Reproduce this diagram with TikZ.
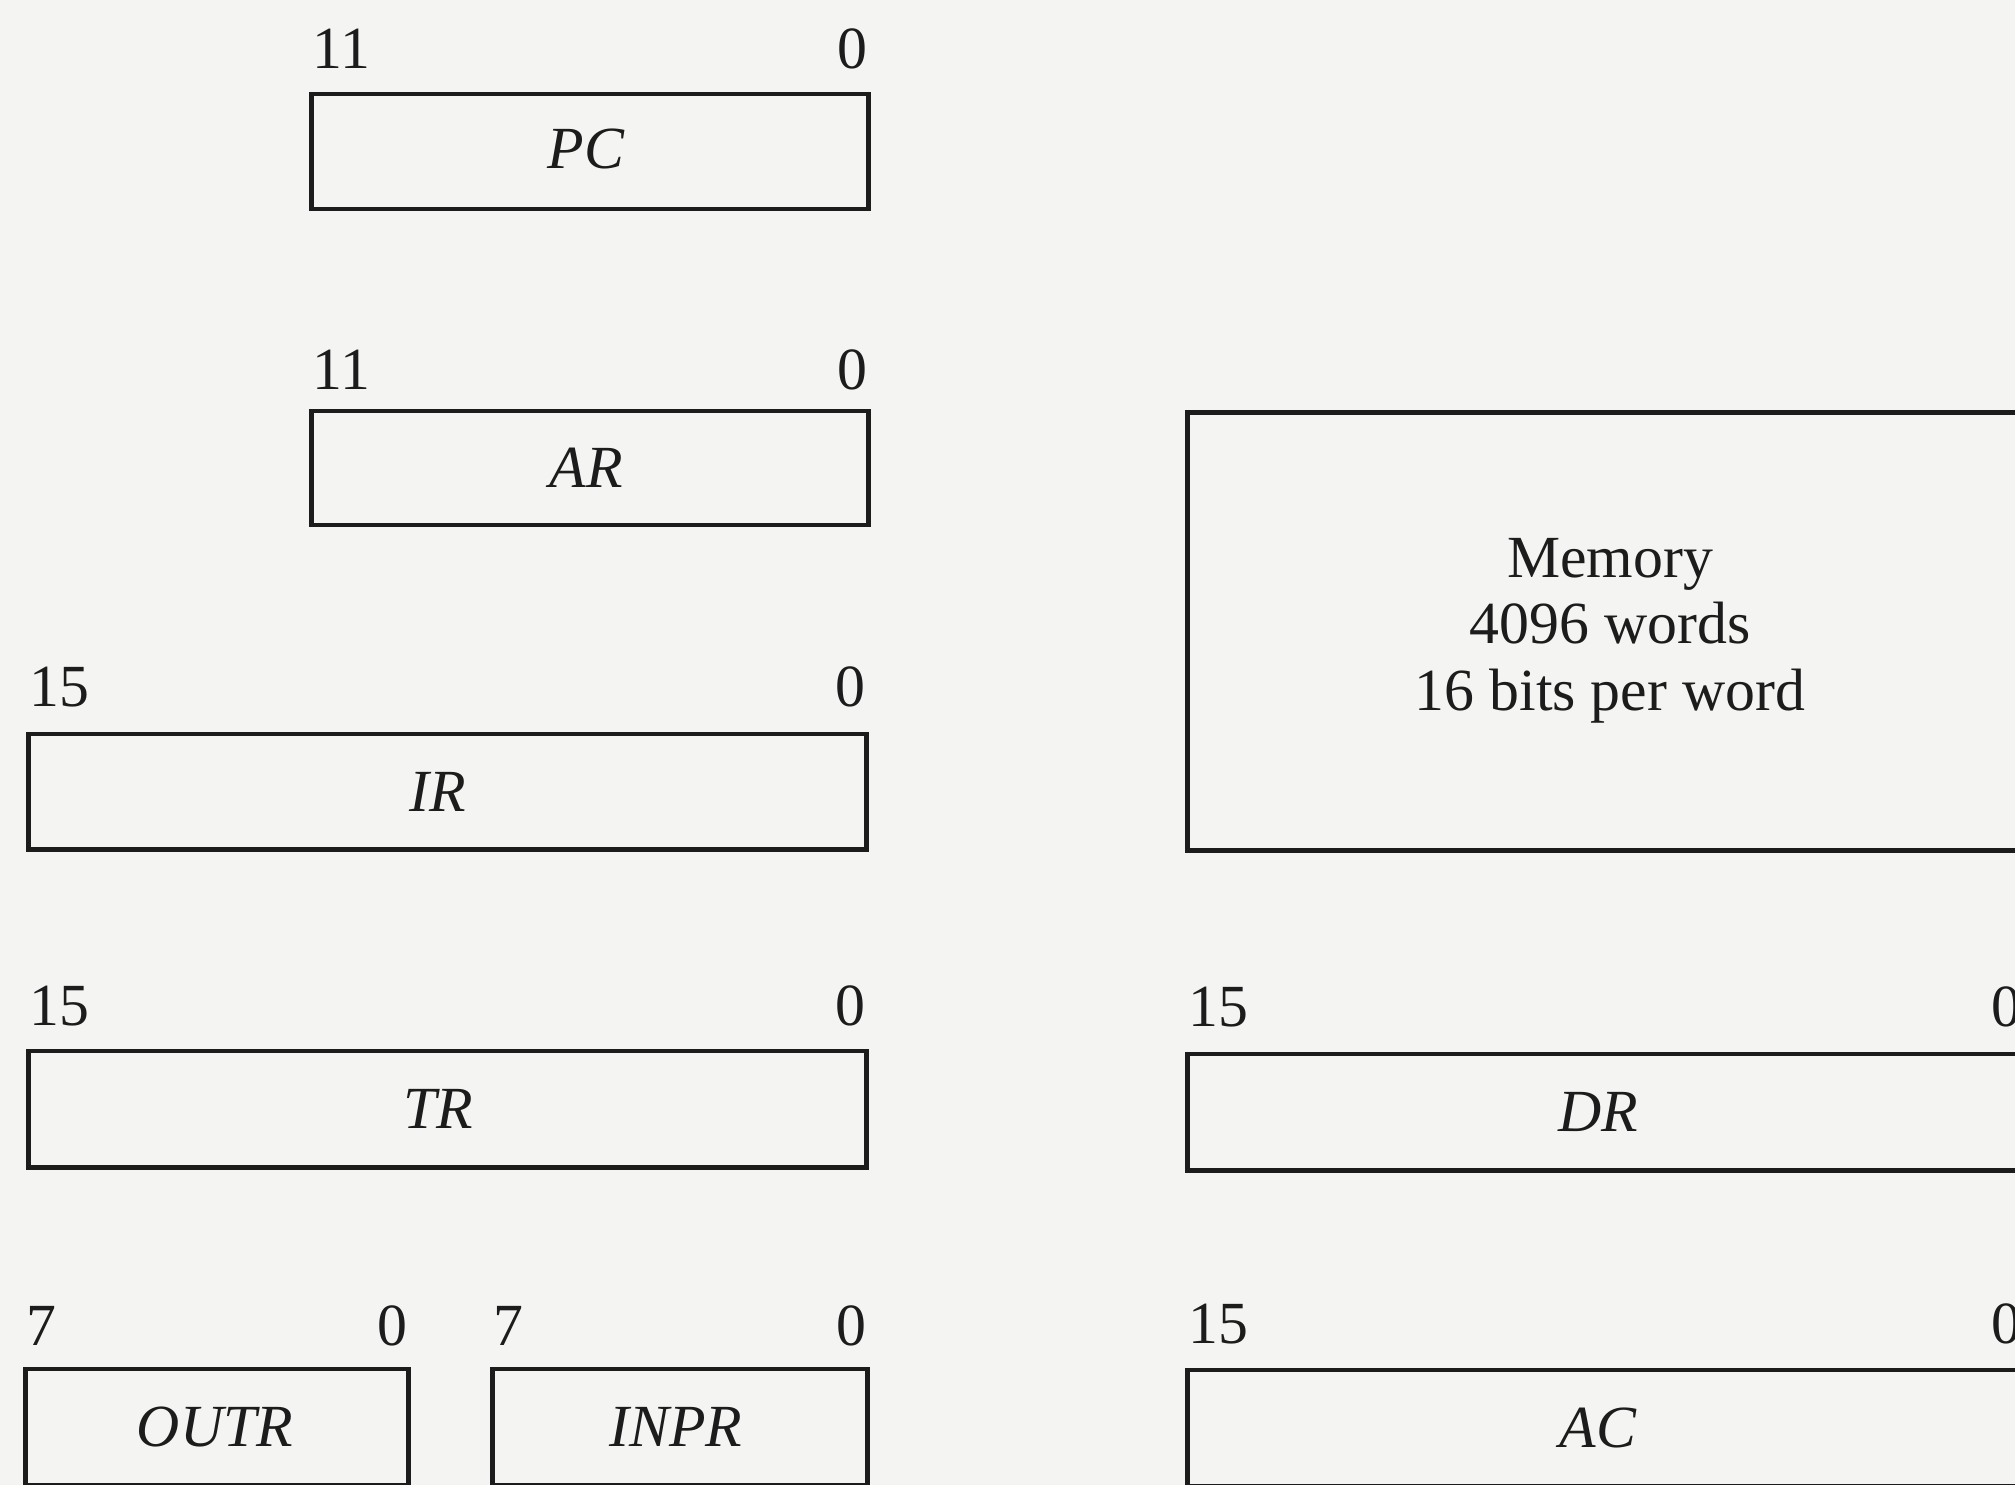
\documentclass[tikz,border=0pt]{standalone}
\usepackage{fontspec}
\setmainfont{Liberation Serif}
\definecolor{paper}{HTML}{F4F4F2}
\definecolor{ink}{HTML}{1C1C1C}
\begin{document}
\begin{tikzpicture}[x=0.01cm,y=-0.01cm,
  regbox/.style={draw=ink, line width=1.4pt, inner sep=0pt, text=ink,
    font=\fontsize{17}{20}\selectfont\itshape},
  regname/.style={inner sep=0pt, text=ink, font=\fontsize{17}{20}\selectfont\itshape},
  bitlbl/.style={inner sep=0pt, text=ink, font=\fontsize{17}{20}\selectfont},
  memtxt/.style={inner sep=0pt, text=ink, anchor=base, font=\fontsize{17}{20}\selectfont},
]
\useasboundingbox[fill=paper] (0,0) rectangle (2015,1485);
\begin{scope}
\clip (0,0) rectangle (2015,1485);
% PC
\node[regbox, minimum width=5.56cm, minimum height=1.15cm] (PC) at (590,151.5) {};
\node[regname] (PCt) at (586,149) {PC};
\node[bitlbl, anchor=base west] (PChi) at (312,69) {11};
\node[bitlbl, anchor=base east] (PClo) at (868,69) {0};
% AR
\node[regbox, minimum width=5.56cm, minimum height=1.14cm] (AR) at (590,468) {};
\node[regname] (ARt) at (586,468) {AR};
\node[bitlbl, anchor=base west] (ARhi) at (312,389) {11};
\node[bitlbl, anchor=base east] (ARlo) at (868,389) {0};
% IR
\node[regbox, minimum width=8.37cm, minimum height=1.15cm] (IR) at (447.5,791.5) {};
\node[regname] (IRt) at (438,791.5) {IR};
\node[bitlbl, anchor=base west] (IRhi) at (29,706) {15};
\node[bitlbl, anchor=base east] (IRlo) at (866,706) {0};
% TR
\node[regbox, minimum width=8.37cm, minimum height=1.16cm] (TR) at (447.5,1109) {};
\node[regname] (TRt) at (438,1109) {TR};
\node[bitlbl, anchor=base west] (TRhi) at (29,1025) {15};
\node[bitlbl, anchor=base east] (TRlo) at (866,1025) {0};
% OUTR
\node[regbox, minimum width=3.82cm, minimum height=1.16cm] (OUTR) at (217,1427) {};
\node[regname] (OUTRt) at (215,1427) {OUTR};
\node[bitlbl, anchor=base west] (OUTRhi) at (26,1345) {7};
\node[bitlbl, anchor=base east] (OUTRlo) at (408,1345) {0};
% INPR
\node[regbox, minimum width=3.74cm, minimum height=1.16cm] (INPR) at (680,1427) {};
\node[regname] (INPRt) at (676,1427) {INPR};
\node[bitlbl, anchor=base west] (INPRhi) at (493,1345) {7};
\node[bitlbl, anchor=base east] (INPRlo) at (867,1345) {0};
% Memory
\node[regbox, minimum width=8.36cm, minimum height=4.37cm] (MEM) at (1606,631.5) {};
\node[memtxt] (mem1) at (1610,577) {Memory};
\node[memtxt] (mem2) at (1610,643) {4096 words};
\node[memtxt] (mem3) at (1610,710) {16 bits per word};
% DR
\node[regbox, minimum width=8.36cm, minimum height=1.16cm] (DR) at (1606,1112) {};
\node[regname] (DRt) at (1598,1112) {DR};
\node[bitlbl, anchor=base west] (DRhi) at (1188,1026) {15};
\node[bitlbl, anchor=base east] (DRlo) at (2022,1026) {0};
% AC
\node[regbox, minimum width=8.36cm, minimum height=1.16cm] (AC) at (1606,1428) {};
\node[regname] (ACt) at (1598,1428) {AC};
\node[bitlbl, anchor=base west] (AChi) at (1188,1343) {15};
\node[bitlbl, anchor=base east] (AClo) at (2022,1343) {0};
\end{scope}
\end{tikzpicture}
\end{document}
